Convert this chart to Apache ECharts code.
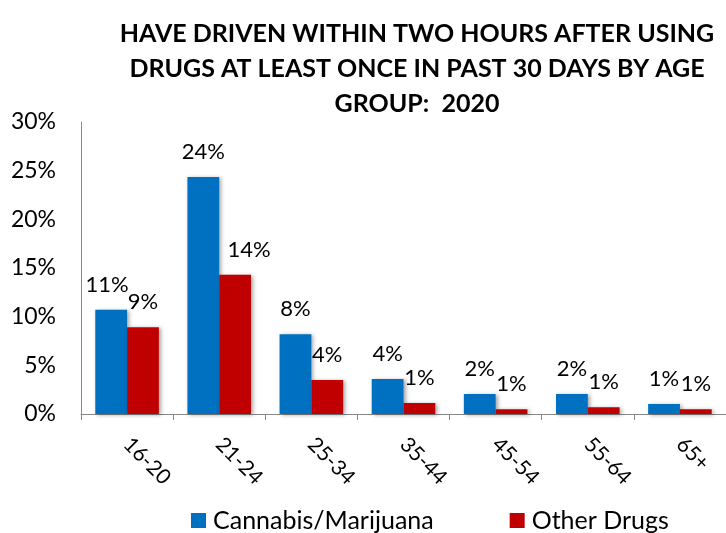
<!DOCTYPE html>
<html><head><meta charset="utf-8">
<script src="https://cdn.jsdelivr.net/npm/echarts@6/dist/echarts.min.js"></script>
<style>html,body{margin:0;padding:0;background:#fff}#c{width:726px;height:533px}</style>
</head><body><div id="c"></div>
<script>
var categories = ['16-20','21-24','25-34','35-44','45-54','55-64','65+'];
var cannabis = [10.7, 24.35, 8.2, 3.6, 2.05, 2.05, 1.03];
var otherDrugs = [8.9, 14.3, 3.5, 1.13, 0.5, 0.7, 0.5];
var yTicks = [0, 5, 10, 15, 20, 25, 30];
var titleLines = ['HAVE DRIVEN WITHIN TWO HOURS AFTER USING','DRUGS AT LEAST ONCE IN PAST 30 DAYS BY AGE','GROUP:  2020'];

var font = 'Lato, "Open Sans", sans-serif';
var chart = echarts.init(document.getElementById('c'));
var shadow = {shadowBlur: 4, shadowColor: 'rgba(0,0,0,0.35)', shadowOffsetX: 2, shadowOffsetY: 1};
function lbl(){ return {show: true, position: 'top', distance: 14, fontFamily: font, fontSize: 22, color: '#000',
  formatter: function(p){ return Math.round(p.value) + '%'; }}; }
// label nudges as in the reference (style only)
var blueData = cannabis.map(function(v, i){
  return i === 0 ? {value: v, label: {offset: [-4, 0]}} : v; });
var redData = otherDrugs.map(function(v, i){
  return i === 1 ? {value: v, label: {offset: [14, 0]}} : v; });
chart.setOption({
  animation: false,
  title: {text: titleLines.join('\n'), left: 412, top: 11, textAlign: 'center',
    textStyle: {fontFamily: font, fontWeight: 'bold', fontSize: 25, lineHeight: 35, color: '#000'}},
  legend: {bottom: -5, left: 186, itemWidth: 15, itemHeight: 15, itemGap: 76, icon: 'rect',
    textStyle: {fontFamily: font, fontSize: 25, color: '#000', padding: [0, 0, 0, 2]},
    data: ['Cannabis/Marijuana', 'Other Drugs']},
  grid: {left: 81, right: -9, top: 122, bottom: 119, containLabel: false},
  xAxis: {type: 'category', data: categories,
    axisLine: {lineStyle: {color: '#888'}},
    axisTick: {show: true, length: 6, lineStyle: {color: '#888'}},
    axisLabel: {rotate: -45, margin: 27, fontFamily: font, fontSize: 21, color: '#000', interval: 0}},
  yAxis: {type: 'value', min: yTicks[0], max: yTicks[yTicks.length-1], interval: 5,
    axisLine: {show: true, lineStyle: {color: '#888'}},
    axisTick: {show: false}, splitLine: {show: false},
    axisLabel: {fontFamily: font, fontSize: 23, color: '#000', margin: 25, formatter: '{value}%'}},
  series: [
    {name: 'Cannabis/Marijuana', type: 'bar', data: blueData, barGap: '0%', barCategoryGap: '31%',
      itemStyle: Object.assign({color: '#0070C0'}, shadow), label: lbl()},
    {name: 'Other Drugs', type: 'bar', data: redData, barGap: '0%', barCategoryGap: '31%',
      itemStyle: Object.assign({color: '#C00000'}, shadow), label: lbl()}
  ]
});
</script></body></html>
